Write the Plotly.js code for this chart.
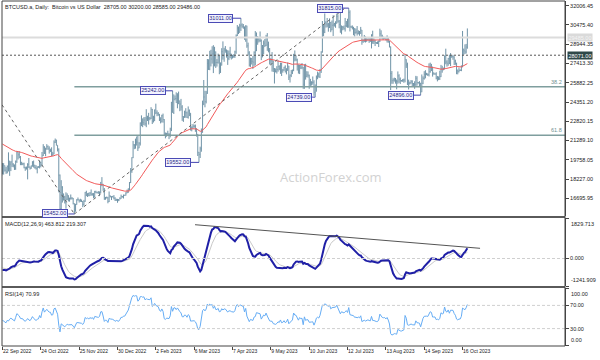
<!DOCTYPE html>
<html><head><meta charset="utf-8">
<script src="https://cdn.plot.ly/plotly-3.0.1.min.js"></script>
<style>html,body{margin:0;padding:0;background:#fff}#chart{width:600px;height:360px}</style>
</head><body><div id="chart"></div>
<script>
// ---- DATA ----
// closes before the visible window (1 Jun 2022 .. 21 Sep 2022), only used to warm up the indicators
const warmupClose = [
29800,30450,29700,29860,29910,31370,31130,30210,30110,29090,28420,26570,22490,22130,22580,20380,20470,19010,20550,20700,20280,19970,21080,21230,21500,21030,20730,20280,20100,19780,
19300,19240,19300,20230,20190,20550,21640,21590,21590,20850,19960,19330,20210,20570,20830,21190,20790,22430,23400,23230,23160,22680,22460,22580,21310,21250,22950,23850,23800,23650,23300,
23270,22990,22820,22630,23290,22960,23180,23810,23160,23950,23960,24400,24440,24310,24100,23850,23340,23190,20830,21140,21520,21400,21530,21370,21560,20240,20040,19550,20280,19810,20050,
20130,19950,19830,20000,19800,18840,19290,19320,21360,21650,21830,22400,20170,20240,19700,19800,20110,19420,19540,18880,18550];

// daily bars, 22 Sep 2022 .. 20 Oct 2023 (broker has no bars 24-26 Dec, 1-2 Jan)
const high = [
19500,19490,19310,19180,19310,20350,19690,19640,20170,
19480,19390,19700,20440,20350,20440,20060,19600,19520,19530,19210,19220,19490,19900,19220,19310,19650,19700,19360,19330,19240,19250,19700,19600,20380,21000,20840,20720,21000,20900,20830,
20640,20750,20390,21300,21450,21360,20920,20670,18590,18140,17660,17080,16890,17170,17090,16940,16750,17000,16790,16720,16290,16260,16620,16760,16600,16660,16600,16480,16570,17200,
17300,17100,17140,17190,17400,17100,17110,17290,17300,17220,17270,17240,18000,18380,17840,17510,16800,16830,16810,17240,16910,16860,16890,16950,16780,16650,16640,16640,
16780,16990,16880,16990,16970,17180,17390,17490,17990,19100,19960,21260,21010,21440,21610,21650,21160,22730,23290,23050,23140,23160,23780,23260,23490,23160,23940,23800,23260,
23750,24220,23690,23550,23410,23140,23340,23430,22990,21930,21900,22070,21880,22310,24360,25242,24960,24870,25120,25050,25180,24470,24600,24100,23220,23660,23860,23590,
24000,23760,23470,22410,22600,22550,22560,22260,21820,20380,20800,22250,24460,26100,25240,25240,27770,27750,28420,28500,28780,28870,28740,28370,27760,28200,28030,27500,28630,29170,28660,
28800,28530,28470,28440,28740,28170,28100,28150,28430,29720,30470,30350,30570,31011,30600,30550,30350,30450,30420,29070,28390,27880,27850,28000,28380,29990,29880,29590,29450,29960,
29330,28880,29240,29360,29690,29830,29150,28640,27840,28320,27630,27050,27020,27200,27660,27270,27480,27470,26980,27150,27270,27040,27480,27220,26550,26900,26930,28180,28450,28050,27800,
27340,27310,27300,27450,27130,27360,27390,26800,26780,26530,26190,26000,26380,26080,25750,26460,26770,26690,26980,28390,30790,30490,31390,30770,31030,30640,31000,30710,30830,31250,
30640,30770,31380,31320,30870,31500,30440,30380,30430,31030,30790,30970,31815,31640,30410,30440,30330,30230,30190,30390,30050,30000,30320,30080,29330,29680,29560,29500,29410,29450,29510,
29730,30020,29420,29300,29120,29170,29240,30180,30050,29700,29540,29470,29450,29650,29450,29210,28770,26810,26240,26290,26260,26120,26780,26560,26300,26100,26170,26210,28140,27750,27480,
26130,25970,26100,26080,25860,26000,26430,26400,25940,26010,25880,26540,26390,26800,26880,26670,26620,27420,27480,27380,27160,26720,26640,26720,26420,26390,26840,27300,27230,27090,
28050,28590,27670,27860,28110,28240,28030,28100,27990,27720,27480,26930,27100,26950,27270,30000,28600,28930,28970,30200];
const low = [
18600,18580,18820,18640,18680,18830,18480,18860,19190,
19160,18950,18960,19510,19780,19880,19330,19330,19330,19080,18880,18980,18200,19110,18980,19050,19210,19140,19060,18980,18680,19120,19070,19160,19280,20060,20220,20040,20570,20550,20250,
20370,20060,20070,20190,21090,20890,20420,17170,15680,15820,16360,16520,16290,15870,16560,16450,16430,16590,16600,16210,15452,15630,16180,16500,16360,16420,16400,15990,16110,16420,
16870,16800,16870,16880,16910,16910,16700,16740,17110,17100,17070,16870,17090,17660,17290,16580,16590,16680,16300,16400,16770,16560,16780,16610,16480,16490,16340,16470,
16600,16660,16750,16680,16900,16910,17100,17140,17320,17910,18720,19890,20600,20640,20890,20460,20680,20890,22430,22350,22520,22460,22350,22840,22560,22900,23000,22600,22720,
22830,23390,23220,23260,22840,22650,22740,22710,21730,21460,21600,21650,21400,21540,22040,23500,23400,24480,24280,23850,24180,23620,23670,22850,22770,23090,23100,23080,
23030,23230,22080,22020,22230,22300,21980,21600,20060,19552,19900,20400,21900,24100,23930,24240,25000,26900,26880,27180,27400,26650,27180,27060,27170,27400,26560,26660,27250,27720,27550,
28270,27880,27300,27680,27840,27730,27810,27880,27860,28180,29600,29750,29850,30000,30260,30170,29300,29140,28660,28050,27170,27140,27330,26980,27220,27250,28400,28900,29080,29120,
27680,27900,28150,28720,28800,28420,28300,27330,27350,26770,26740,25820,26700,26610,26760,26880,26590,26420,26680,26830,26700,26550,26830,26100,25900,26330,26570,26800,27580,27600,26850,
26610,26570,26970,26960,25400,25400,26130,26330,26290,25400,25630,25660,25730,24840,24739,25170,26160,26300,26260,26660,28280,29570,29830,30270,30290,29940,30230,29900,30060,29600,
30350,30250,30570,30650,30210,29860,29730,30050,30100,29950,30300,30250,30250,29960,30250,30120,29660,29550,29780,29630,29730,29620,29770,28900,29050,29110,29080,29130,29260,29050,29120,
28610,28980,28960,28800,28960,28960,28720,29120,29380,29320,29310,29360,29250,29080,29060,28690,25300,25800,25800,25970,25810,25360,25800,25870,25780,25980,25960,25880,25920,27060,25700,
25350,25740,25810,25600,25580,25400,25620,25650,25810,25600,24896,25130,25770,26130,26230,26480,26420,26380,26680,26810,26370,26540,26520,26150,25990,26090,26100,26330,26680,26880,
26940,27350,27160,27230,27360,27200,27860,27710,27290,27310,26560,26550,26700,26820,26800,27110,28100,28170,28200,28585];
const close = [
19410,19300,18930,18800,19230,19080,19410,19590,19420,
19310,19060,19630,20340,20160,19960,19530,19420,19440,19130,19060,19160,19380,19190,19070,19270,19550,19330,19130,19050,19170,19210,19570,19330,20090,20770,20290,20600,20810,20630,20490,
20480,20150,20210,21150,21300,20920,20590,18540,15880,17590,17030,16800,16330,16620,16900,16670,16690,16700,16700,16280,15780,16200,16600,16600,16520,16460,16440,16210,16440,17170,
16970,17090,16890,17110,16970,17090,16840,17220,17130,17130,17100,17200,17780,17810,17360,16630,16780,16740,16440,16900,16830,16830,16780,16700,16550,16630,16600,16540,
16670,16850,16830,16950,16940,17120,17180,17440,17940,18850,19930,20950,20880,21170,21160,20690,21080,22680,22780,22710,22920,22620,23060,23010,23080,23030,23770,22840,23130,
23730,23490,23430,23330,22940,22760,23260,22960,21800,21630,21860,21790,21770,22200,24330,23520,24570,24630,24300,24840,24440,24190,23950,23200,23160,23550,23490,23140,
23650,23470,22360,22350,22430,22410,22200,21700,20360,20190,20630,22130,24200,24750,24380,25050,27420,26970,28040,27770,28170,27300,28330,27490,27490,27990,27140,27270,28350,28030,28480,
28450,28200,27800,28170,28180,28040,27920,27950,28330,29650,30240,29900,30400,30480,30320,30320,29450,30400,28820,28250,27280,27820,27590,27520,28300,28420,29470,29340,29250,29230,
28070,28680,29030,28850,29540,28900,28450,27700,27620,27600,26980,26800,26780,26930,27170,27030,27400,26830,26890,27120,26750,26850,27220,26330,26480,26720,26870,28080,27750,27700,27220,
26820,27250,27070,27120,25760,27240,26350,26500,26480,25850,25940,25900,25920,25120,25580,26330,26510,26340,26840,28310,30000,29900,30690,30550,30470,30270,30690,30080,30450,30480,
30590,30620,31160,30770,30510,29900,30350,30290,30170,30410,30620,30390,31480,30320,30290,30250,30150,29860,29910,29800,29910,29800,30080,29180,29230,29350,29220,29320,29360,29280,29230,
29700,29180,29180,29080,29050,29040,29180,29770,29580,29430,29400,29420,29290,29410,29170,28730,26620,26050,26100,26190,26120,25990,26430,26160,26050,26010,26080,26100,27720,27300,25930,
25800,25870,25970,25820,25780,25750,26240,25900,25890,25830,25160,25840,26230,26540,26600,26570,26530,26760,27210,27130,26570,26580,26580,26250,26300,26220,26370,27030,26910,26970,
27990,27530,27430,27800,27420,27950,27970,27940,27600,27390,26880,26760,26860,26860,27160,28520,28420,28330,28720,29486];

// x-axis labels (bar index of each label, MT4 style every 32 bars)
const tickIndex = [0,32,64,96,128,160,192,224,256,288,320,352,384];
const tickText = ['22 Sep 2022','24 Oct 2022','25 Nov 2022','30 Dec 2022','2 Feb 2023','6 Mar 2023','7 Apr 2023','9 May 2023','10 Jun 2023','12 Jul 2023','13 Aug 2023','14 Sep 2023','16 Oct 2023'];
const priceTicks = [16695.95,18227.00,19758.05,21289.10,22820.15,24351.20,25882.25,27413.30,28944.35,30475.40,32006.45];
const macdTicks = [-1241.909, 0, 1829.713];
const rsiTicks = [0, 30, 70, 100];

// swing-point labels (bar index, price)
const pivotIndex = [60, 142, 164, 199, 261, 289, 349];
const pivotPrice = [15452, 25242, 19552, 31011, 24739, 31815, 24896];

// retracement levels of the 15452 -> 31815 rise
const fibName = ['38.2', '61.8'];
const fibPrice = [25564, 21703];
const fibStartIndex = 60;

const bidPrice = 29485;
const linePrice = 28071;
// hand-drawn trend lines: [index0, value0, index1, value1]
const priceTrendA = [-0.4, 24130, 60, 15452];
const priceTrendB = [60, 15452, 286, 31820];
const macdTrend = [160.7, 1527, 398.6, 461];

// ---- INDICATORS (computed from the closes) ----
const allClose = warmupClose.concat(close);
const W = warmupClose.length;
function ema(arr, n) {
  const a = 2 / (n + 1); const out = []; let e = arr[0];
  for (let i = 0; i < arr.length; i++) { e = i ? a * arr[i] + (1 - a) * e : arr[0]; out.push(e); }
  return out;
}
const ema55 = ema(allClose, 55).slice(W);
const e12 = ema(allClose, 12), e26 = ema(allClose, 26);
const macdAll = e12.map((v, i) => v - e26[i]);
const sigAll = ema(macdAll, 9);
const macd = macdAll.slice(W), signal = sigAll.slice(W);
function rsiCalc(arr, n) {
  const out = [null]; let ag = 0, al = 0;
  for (let i = 1; i < arr.length; i++) {
    const d = arr[i] - arr[i - 1], g = Math.max(d, 0), l = Math.max(-d, 0);
    if (i <= n) { ag += g / n; al += l / n; }
    else { ag = (ag * (n - 1) + g) / n; al = (al * (n - 1) + l) / n; }
    out.push(i < n ? null : (al === 0 ? 100 : 100 - 100 / (1 + ag / al)));
  }
  return out;
}
const rsi = rsiCalc(allClose, 14).slice(W);
const open = close.map((c, i) => i === 0 ? warmupClose[W - 1] : close[i - 1]);
const idx = close.map((_, i) => i);

// ---- FIGURE ----
const F = 'Liberation Sans, Arial, sans-serif';
const barCol = '#6f93a7';
const traces = [
  {type: 'ohlc', x: idx, open: open, high: high, low: low, close: close, xaxis: 'x', yaxis: 'y',
   increasing: {line: {color: barCol, width: 1}}, decreasing: {line: {color: barCol, width: 1}},
   tickwidth: 0.3, hoverinfo: 'skip'},
  {type: 'scatter', mode: 'lines', x: idx, y: ema55, yaxis: 'y', line: {color: '#f25a5a', width: 1}, hoverinfo: 'skip'},
  {type: 'scatter', mode: 'lines', x: idx, y: signal, yaxis: 'y2', line: {color: '#c9c9c9', width: 1}, hoverinfo: 'skip'},
  {type: 'scatter', mode: 'lines', x: idx, y: macd, yaxis: 'y2', line: {color: '#1f1fa6', width: 2}, hoverinfo: 'skip'},
  {type: 'scatter', mode: 'lines', x: idx, y: rsi, yaxis: 'y3', line: {color: '#66adf5', width: 1}, hoverinfo: 'skip'}
];

const dP = [0.3768, 1], dM = [0.1739, 0.3710], dR = [0, 0.1681];
const yAx = (dom, rng, tv, tt) => ({domain: dom, range: rng, side: 'right', anchor: 'x', tickvals: tv, ticktext: tt,
  ticks: 'outside', ticklen: 3, tickcolor: '#444', tickfont: {family: F, size: 5.5, color: '#222'},
  showgrid: false, zeroline: false, showline: true, linecolor: '#444', linewidth: 1, fixedrange: true});

const shapes = [];
const ln = (x0, y0, x1, y1, xref, yref, color, width, dash) =>
  shapes.push({type: 'line', xref: xref, yref: yref, x0: x0, y0: y0, x1: x1, y1: y1, line: {color: color, width: width, dash: dash || 'solid'}});
ln(0, bidPrice, 1, bidPrice, 'paper', 'y', '#dcdcdc', 2);
ln(0, linePrice, 1, linePrice, 'paper', 'y', '#555', 1, '2px,2px');
fibPrice.forEach(p => ln(fibStartIndex, p, 469.5, p, 'x', 'y', '#7f9e9e', 1.5));
ln(priceTrendA[0], priceTrendA[1], priceTrendA[2], priceTrendA[3], 'x', 'y', '#666', 1, 'dot');
ln(priceTrendB[0], priceTrendB[1], priceTrendB[2], priceTrendB[3], 'x', 'y', '#666', 1, 'dot');
ln(0, 0, 1, 0, 'paper', 'y2', '#cfcfcf', 1, '3px,2px');
ln(macdTrend[0], macdTrend[1], macdTrend[2], macdTrend[3], 'x', 'y2', '#555', 1);
ln(0, 70, 1, 70, 'paper', 'y3', '#cfcfcf', 1, '3px,2px');
ln(0, 30, 1, 30, 'paper', 'y3', '#cfcfcf', 1, '3px,2px');
// panel frames and separators
shapes.push({type: 'rect', xref: 'paper', yref: 'paper', x0: 0, x1: 1, y0: dM[1], y1: dP[0], fillcolor: '#5a5a5a', line: {width: 0}});
shapes.push({type: 'rect', xref: 'paper', yref: 'paper', x0: 0, x1: 1, y0: dR[1], y1: dM[0], fillcolor: '#5a5a5a', line: {width: 0}});
shapes.push({type: 'rect', xref: 'paper', yref: 'paper', x0: 0, x1: 1, y0: 0, y1: 1, line: {color: '#444', width: 1}});

const annotations = [];
const txt = (o) => annotations.push(Object.assign({showarrow: false, font: {family: F, size: 5.5, color: '#222'}}, o));
txt({xref: 'paper', yref: 'paper', x: 0.002, y: 1, xanchor: 'left', yanchor: 'top', yshift: -1,
     text: 'BTCUSD.a, Daily:  Bitcoin vs US Dollar  28705.00 30200.00 28585.00 29486.00'});
txt({xref: 'paper', yref: 'paper', x: 0.002, y: dM[1], xanchor: 'left', yanchor: 'top', yshift: -1,
     text: 'MACD(12,26,9) ' + '463.812 219.307'});
txt({xref: 'paper', yref: 'paper', x: 0.002, y: dR[1], xanchor: 'left', yanchor: 'top', yshift: -1,
     text: 'RSI(14) ' + '70.99'});
txt({xref: 'paper', yref: 'paper', x: 0.584, y: 0.49, xanchor: 'center', yanchor: 'middle',
     text: 'ActionForex.com', font: {family: 'Open Sans, sans-serif', size: 13, color: '#d2d2d2'}});
fibName.forEach((n, i) => txt({xref: 'paper', yref: 'y', x: 1, y: fibPrice[i], xanchor: 'right', yanchor: 'bottom', xshift: -1,
     text: n, font: {family: F, size: 5.5, color: '#6f9090'}}));
txt({xref: 'paper', yref: 'y', x: 1, y: bidPrice, xanchor: 'left', yanchor: 'middle', xshift: 2, text: bidPrice.toFixed(2),
     bgcolor: '#dadada', font: {family: F, size: 5.5, color: '#f4f4f4'}, borderpad: 0.5});
txt({xref: 'paper', yref: 'y', x: 1, y: linePrice, xanchor: 'left', yanchor: 'middle', xshift: 2, text: linePrice.toFixed(2),
     bgcolor: '#2f4848', font: {family: F, size: 5.5, color: '#ffffff'}, borderpad: 0.5});
txt({xref: 'paper', yref: 'y2', x: 1, y: macdTicks[2], xanchor: 'left', yanchor: 'top', xshift: 4, yshift: -1, text: macdTicks[2].toFixed(3)});
txt({xref: 'paper', yref: 'y2', x: 1, y: macdTicks[0], xanchor: 'left', yanchor: 'bottom', xshift: 4, yshift: 1, text: macdTicks[0].toFixed(3)});
txt({xref: 'paper', yref: 'y3', x: 1, y: rsiTicks[3], xanchor: 'left', yanchor: 'top', xshift: 4, yshift: -1, text: rsiTicks[3].toFixed(2)});
txt({xref: 'paper', yref: 'y3', x: 1, y: rsiTicks[0], xanchor: 'left', yanchor: 'bottom', xshift: 4, yshift: 1, text: rsiTicks[0].toFixed(2)});
const pivotAx = [-6, -7, -8, -8, -3, -6, -7];
pivotIndex.forEach((xi, i) => annotations.push({xref: 'x', yref: 'y', x: xi, y: pivotPrice[i], text: pivotPrice[i].toFixed(2),
  showarrow: true, arrowhead: 0, arrowwidth: 1, arrowcolor: '#4040b0', ax: pivotAx[i], ay: 0, xanchor: 'right', yanchor: 'middle',
  standoff: 0, startstandoff: 0,
  bgcolor: '#f3f3ff', bordercolor: '#4b4bb5', borderwidth: 1, borderpad: 0.3,
  font: {family: F, size: 5.5, color: '#2a2a85'}}));

const layout = {
  width: 600, height: 360, margin: {l: 2, r: 35, t: 1, b: 14},
  paper_bgcolor: '#ffffff', plot_bgcolor: '#ffffff', showlegend: false, hovermode: false,
  xaxis: {range: [-0.4, 469.5], anchor: 'y3', tickvals: tickIndex, ticktext: tickText, ticks: 'outside', ticklen: 3,
    tickcolor: '#444', ticklabelposition: 'outside right', tickfont: {family: F, size: 5, color: '#222'},
    showgrid: false, zeroline: false, showline: false, rangeslider: {visible: false}, fixedrange: true},
  yaxis: yAx(dP, [15290, 32380], priceTicks, priceTicks.map(v => v.toFixed(2))),
  yaxis2: yAx(dM, [macdTicks[0], macdTicks[2]], macdTicks, ['', macdTicks[1].toFixed(3), '']),
  yaxis3: yAx(dR, [rsiTicks[0], rsiTicks[3]], rsiTicks, ['', rsiTicks[1].toFixed(2), rsiTicks[2].toFixed(2), '']),
  shapes: shapes, annotations: annotations
};
Plotly.newPlot('chart', traces, layout, {staticPlot: true, displayModeBar: false});
</script></body></html>
